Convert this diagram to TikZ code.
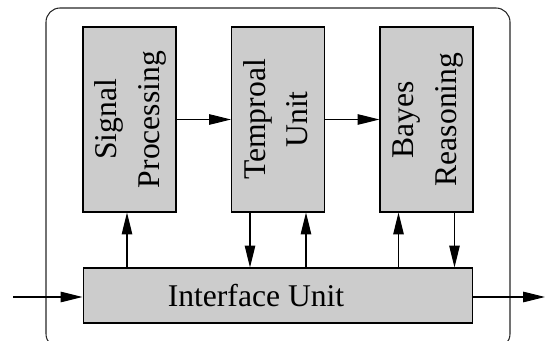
\documentclass[tikz,border=0pt]{standalone}
\usepackage{fontspec}
\setmainfont{Liberation Serif}
\usepackage{graphicx}
\usepackage{tikz}
\usetikzlibrary{arrows.meta, positioning, calc}
\definecolor{boxgray}{RGB}{204,204,204}
\newcommand{\vlabel}[1]{\rotatebox{90}{\begin{tabular}{@{}c@{}}#1\end{tabular}}}

\begin{document}
\begin{tikzpicture}[x=0.02cm, y=-0.02cm,
    blk/.style={draw, fill=boxgray, line width=0.6pt, align=center, inner sep=0pt,
      font=\fontsize{18}{24}\selectfont},
    vblk/.style={blk, minimum width=1.86cm, minimum height=3.7cm},
    arr/.style={-{Triangle[length=12.5pt, width=6pt]}, line width=0.6pt}]
  \useasboundingbox (0,0) rectangle (545,341);
  \draw[black!85, line width=0.6pt, rounded corners=8] (46,8) rectangle (510,348);

  \node[vblk] (sig) at (129.5,119.5) {\vlabel{Signal\\Processing}};
  \node[vblk] (tmp) at (278,119.5) {\vlabel{Temproal\\Unit}};
  \node[vblk] (bay) at (426.5,119.5) {\vlabel{Bayes\\Reasoning}};
  \node[blk, minimum width=7.8cm, minimum height=1.1cm] (ifc) at (278,295.5) {Interface Unit\hspace*{0.88cm}};

  \draw[arr] (sig) -- (tmp);
  \draw[arr] (tmp) -- (bay);
  \draw[arr] ([xshift=-0.05cm]sig.south |- ifc.north) -- ([xshift=-0.05cm]sig.south);
  \draw[arr] ([xshift=-0.56cm]tmp.south) -- ([xshift=-0.56cm]tmp.south |- ifc.north);
  \draw[arr] ([xshift=0.56cm]tmp.south |- ifc.north) -- ([xshift=0.56cm]tmp.south);
  \draw[arr] ([xshift=-0.56cm]bay.south |- ifc.north) -- ([xshift=-0.56cm]bay.south);
  \draw[arr] ([xshift=0.56cm]bay.south) -- ([xshift=0.56cm]bay.south |- ifc.north);

  % in and out
  \coordinate (in) at (13,297);
  \coordinate (out) at (545,297);
  \draw[arr] (in) -- (in -| ifc.west);
  \draw[arr] (ifc.east |- out) -- (out);
\end{tikzpicture}
\end{document}
